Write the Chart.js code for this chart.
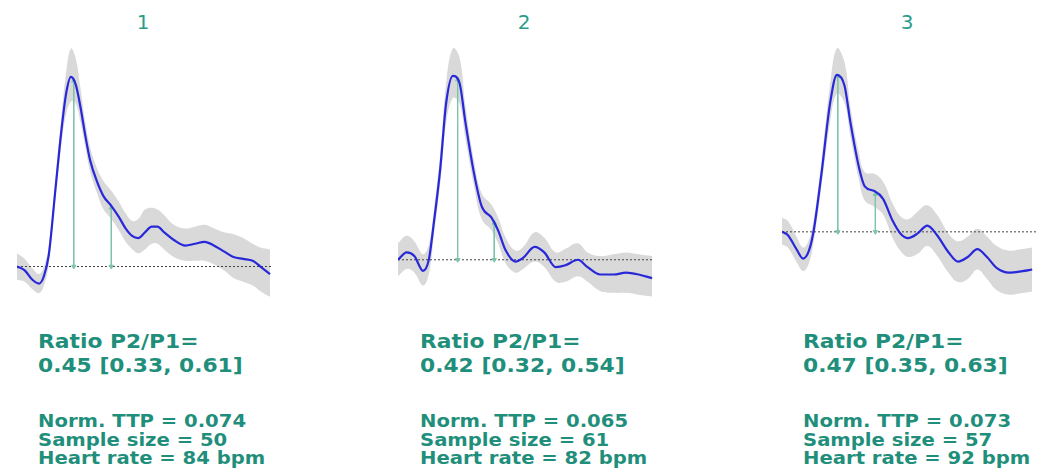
<!DOCTYPE html>
<html>
<head>
<meta charset="utf-8">
<script src="https://cdn.jsdelivr.net/npm/chart.js@4/dist/chart.umd.min.js"></script>
<style>
  body { margin: 0; width: 1037px; height: 475px; overflow: hidden; background: #fff; position: relative; font-family: "DejaVu Sans", sans-serif; }
  canvas { position: absolute; top: 40px; }
  .ttl { position: absolute; top: 10px; width: 60px; margin-left: -30px; text-align: center; font-size: 20px; color: #2a9d8a; }
  .stats { position: absolute; color: #1f8f7c; font-weight: bold; white-space: pre; }
  .stats div { position: absolute; transform: scaleX(1.09); transform-origin: 0 0; }
  .ratio { top: 329px; font-size: 20px; line-height: 24px; }
  .info { top: 412px; font-size: 18px; line-height: 18.5px; }
</style>
</head>
<body>
<div class="ttl" style="left:143px">1</div>
<div class="ttl" style="left:524px">2</div>
<div class="ttl" style="left:907px">3</div>
<canvas id="c1" width="264" height="270" style="left:12px"></canvas>
<canvas id="c2" width="265" height="270" style="left:393px"></canvas>
<canvas id="c3" width="265" height="270" style="left:777px"></canvas>
<div class="stats" id="s1" style="left:38px"></div>
<div class="stats" id="s2" style="left:420px"></div>
<div class="stats" id="s3" style="left:803px"></div>
<script>
// panel 1 (time in samples, amplitude normalised to P1)
const t1 = [0, 8, 16, 23, 28, 33, 40, 46, 51, 56, 61, 66, 71, 76, 83, 90, 98, 106, 113, 120, 126, 133, 140, 146, 153, 163, 175, 185, 195, 205, 215, 225, 235, 245, 253, 263];
const mean1 = [0.00, -0.02, -0.07, -0.09, -0.05, 0.06, 0.41, 0.71, 0.91, 1.00, 0.96, 0.84, 0.69, 0.56, 0.45, 0.37, 0.32, 0.26, 0.20, 0.16, 0.15, 0.18, 0.21, 0.21, 0.18, 0.14, 0.11, 0.12, 0.13, 0.11, 0.08, 0.05, 0.04, 0.03, 0.00, -0.04];
const upper1 = [0.07, 0.04, -0.01, -0.04, 0.00, 0.11, 0.46, 0.78, 1.02, 1.15, 1.10, 0.94, 0.76, 0.63, 0.52, 0.45, 0.40, 0.34, 0.28, 0.24, 0.25, 0.30, 0.31, 0.30, 0.27, 0.22, 0.20, 0.21, 0.22, 0.20, 0.18, 0.17, 0.15, 0.12, 0.10, 0.09];
const lower1 = [-0.07, -0.08, -0.12, -0.14, -0.10, 0.01, 0.36, 0.64, 0.80, 0.87, 0.86, 0.76, 0.63, 0.50, 0.39, 0.30, 0.25, 0.19, 0.13, 0.09, 0.07, 0.09, 0.12, 0.12, 0.09, 0.05, 0.03, 0.03, 0.03, 0.01, -0.02, -0.06, -0.08, -0.10, -0.13, -0.16];
const peaks1 = [[59, 0.98], [98, 0.31]];

// panel 2
const t2 = [0, 9, 17, 26, 32, 37, 44, 50, 57, 64, 70, 79, 87, 97, 104, 112, 122, 130, 142, 152, 164, 174, 187, 197, 210, 224, 237, 250, 264];
const mean2 = [0.00, 0.04, 0.02, -0.06, 0.00, 0.19, 0.50, 0.85, 1.00, 0.96, 0.75, 0.47, 0.29, 0.23, 0.16, 0.05, -0.01, 0.01, 0.07, 0.04, -0.04, -0.03, 0.00, -0.04, -0.08, -0.08, -0.07, -0.08, -0.10];
const upper2 = [0.09, 0.13, 0.10, 0.03, 0.08, 0.26, 0.58, 0.96, 1.15, 1.10, 0.84, 0.54, 0.36, 0.30, 0.23, 0.12, 0.05, 0.07, 0.15, 0.12, 0.04, 0.06, 0.09, 0.04, 0.02, 0.03, 0.04, 0.03, 0.02];
const lower2 = [-0.09, -0.05, -0.07, -0.14, -0.08, 0.12, 0.42, 0.74, 0.88, 0.85, 0.66, 0.40, 0.22, 0.16, 0.09, -0.02, -0.07, -0.05, -0.01, -0.04, -0.12, -0.12, -0.09, -0.12, -0.17, -0.18, -0.18, -0.19, -0.20];
const peaks2 = [[62, 0.98], [100, 0.20]];

// panel 3
const t3 = [0, 6, 15, 22, 28, 33, 41, 50, 57, 65, 71, 80, 86, 96, 105, 115, 123, 131, 141, 151, 161, 173, 183, 193, 203, 213, 223, 236, 250, 260];
const mean3 = [0.00, -0.02, -0.11, -0.17, -0.12, 0.01, 0.37, 0.82, 1.00, 0.93, 0.70, 0.41, 0.29, 0.26, 0.21, 0.07, -0.01, -0.04, -0.01, 0.04, -0.02, -0.13, -0.19, -0.16, -0.11, -0.16, -0.23, -0.26, -0.25, -0.24];
const upper3 = [0.09, 0.07, -0.03, -0.10, -0.05, 0.08, 0.45, 0.94, 1.17, 1.08, 0.80, 0.50, 0.38, 0.37, 0.32, 0.18, 0.10, 0.08, 0.13, 0.17, 0.11, -0.01, -0.06, -0.03, 0.02, -0.03, -0.09, -0.12, -0.11, -0.10];
const lower3 = [-0.08, -0.10, -0.19, -0.25, -0.20, -0.06, 0.29, 0.70, 0.88, 0.82, 0.61, 0.33, 0.20, 0.16, 0.11, -0.04, -0.12, -0.16, -0.14, -0.09, -0.15, -0.26, -0.32, -0.30, -0.24, -0.30, -0.37, -0.40, -0.39, -0.38];
const peaks3 = [[58, 0.99], [97, 0.24]];

const titles = ['1', '2', '3'];
const ratios = ['0.45 [0.33, 0.61]', '0.42 [0.32, 0.54]', '0.47 [0.35, 0.63]'];
const ttps = ['0.074', '0.065', '0.073'];
const sampleSizes = [50, 61, 57];
const heartRates = [84, 82, 92];

const pts = (xs, ys) => xs.map((x, i) => ({ x, y: ys[i] }));

function drawPanel(id, t, mean, upper, lower, peaks, yMin, yMax, xMax) {
  const arrows = peaks.map(([x, y]) => ({
    data: [{ x, y }, { x, y: 0 }],
    borderColor: '#7cc4ac', backgroundColor: '#7cc4ac', borderWidth: 1,
    pointStyle: 'triangle', pointRadius: 2.5, pointRotation: [0, 180], fill: false
  }));
  new Chart(document.getElementById(id), {
    type: 'line',
    data: {
      datasets: [
        { data: pts(t, mean), borderColor: '#2828d8', borderWidth: 2.2, pointRadius: 0, tension: 0.4, cubicInterpolationMode: 'monotone', fill: false },
        ...arrows,
        { data: [{ x: 0, y: 0 }, { x: xMax, y: 0 }], borderColor: '#444', borderWidth: 1, borderDash: [2, 2], pointRadius: 0, fill: false },
        { data: pts(t, upper), borderWidth: 0, pointRadius: 0, tension: 0.4, backgroundColor: '#d9d9d9', fill: '+1' },
        { data: pts(t, lower), borderWidth: 0, pointRadius: 0, tension: 0.4, fill: false }
      ]
    },
    options: {
      responsive: false, animation: false, devicePixelRatio: 1,
      layout: { padding: 0 },
      plugins: { legend: { display: false }, tooltip: { enabled: false } },
      scales: {
        x: { type: 'linear', display: false, min: 0, max: xMax },
        y: { display: false, min: yMin, max: yMax }
      }
    }
  });
}

drawPanel('c1', t1, mean1, upper1, lower1, peaks1, -0.203, 1.168, 264);
drawPanel('c2', t2, mean2, upper2, lower2, peaks2, -0.246, 1.168, 265);
drawPanel('c3', t3, mean3, upper3, lower3, peaks3, -0.466, 1.190, 265);

[0, 1, 2].forEach(i => {
  document.getElementById('s' + (i + 1)).innerHTML =
    '<div class="ratio">Ratio P2/P1=\n' + ratios[i] + '</div>' +
    '<div class="info">Norm. TTP = ' + ttps[i] + '\nSample size = ' + sampleSizes[i] + '\nHeart rate = ' + heartRates[i] + ' bpm</div>';
});
</script>
</body>
</html>
